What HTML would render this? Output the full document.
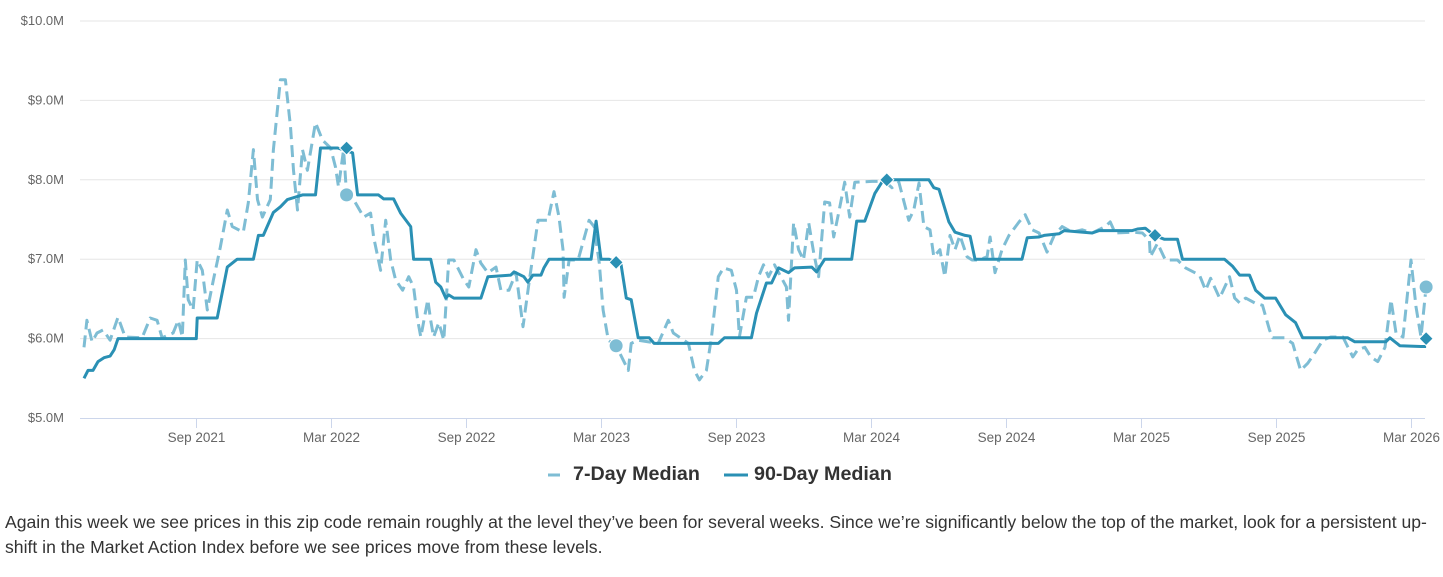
<!DOCTYPE html>
<html><head><meta charset="utf-8">
<style>
body{margin:0;width:1443px;height:577px;background:#fff;overflow:hidden;font-family:"Liberation Sans",Arial,sans-serif;}
#chart{position:absolute;left:0;top:0;}
#para{position:absolute;left:5px;top:510px;width:1422px;font-size:17.6px;line-height:25px;color:#333;margin:0;}
</style></head><body>
<svg id="chart" width="1443" height="500" xmlns="http://www.w3.org/2000/svg"></svg>
<p id="para">Again this week we see prices in this zip code remain roughly at the level they’ve been for several weeks. Since we’re significantly below the top of the market, look for a persistent up-shift in the Market Action Index before we see prices move from these levels.</p>
<script>
// months since Apr 2021
const dayT=[0,0.13,0.36,0.58,0.85,1.16,1.51,1.83,2.58,2.94,3.25,3.47,3.96,4.19,4.37,4.5,4.63,4.85,5.03,5.26,5.48,5.75,6.06,6.37,6.59,7.08,7.3,7.53,7.71,7.93,8.28,8.42,8.73,8.95,9.18,9.31,9.49,9.71,9.93,10.29,10.6,10.96,11.18,11.31,11.54,11.67,11.98,12.43,12.74,12.87,13.18,13.41,13.63,13.85,14.16,14.43,14.65,14.83,14.97,15.28,15.41,15.54,15.77,15.99,16.21,16.44,16.88,17.1,17.42,17.64,17.95,18.31,18.53,18.89,19.2,19.51,19.78,20.18,20.62,20.89,21.11,21.29,21.34,21.56,21.96,22.45,22.67,22.9,23.07,23.3,23.65,24.19,24.32,24.63,25.52,25.97,26.19,26.86,27.13,27.35,27.66,27.89,28.19,28.42,28.77,29,29.13,29.44,29.75,29.98,30.2,30.42,30.69,31.22,31.31,31.54,31.76,31.98,32.21,32.43,32.65,32.92,33.14,33.32,33.54,33.81,34.03,34.26,35.02,35.59,35.91,36.22,36.66,36.88,37.11,37.33,37.6,37.77,38.04,38.26,38.49,38.71,38.93,39.25,39.47,39.78,40.14,40.27,40.49,40.8,41.11,41.56,41.83,42.14,42.45,42.8,43.12,43.47,43.92,44.36,44.81,45.39,45.61,45.83,46.59,47.04,47.35,47.39,47.71,48.06,48.6,48.96,49.58,49.85,50.07,50.47,50.91,51.14,51.36,51.63,52.03,52.38,52.69,52.83,53.36,53.72,54.07,54.39,54.7,55.06,55.41,55.95,56.39,56.61,56.93,57.19,57.5,57.82,58.09,58.31,58.62,58.98,59.2,59.42,59.65];
const dayV=[5.89,6.23,5.96,6.07,6.11,5.98,6.27,6.02,6.01,6.26,6.23,6.01,6.07,6.23,6.02,6.99,6.49,6.36,6.99,6.86,6.36,6.74,7.15,7.62,7.41,7.34,7.71,8.38,7.75,7.53,7.75,8.38,9.26,9.26,8.67,8.12,7.62,8.38,8.12,8.72,8.5,8.4,8.16,7.91,8.38,7.81,7.75,7.53,7.58,7.28,6.86,7.49,6.99,6.74,6.61,6.78,6.65,6.23,6.02,6.49,6.23,6.02,6.2,5.98,6.99,6.99,6.74,6.65,7.12,6.95,6.83,6.9,6.61,6.61,6.83,6.15,6.7,7.49,7.49,7.85,7.53,7.12,6.52,6.99,6.99,7.49,7.41,6.95,6.36,5.98,5.91,5.6,5.94,5.98,5.94,6.23,6.07,5.94,5.6,5.48,5.6,6.02,6.78,6.89,6.86,6.61,6.02,6.52,6.52,6.78,6.93,6.78,6.93,6.65,6.23,7.46,7.12,6.99,7.46,7.08,6.78,7.72,7.71,7.28,7.58,7.97,7.53,7.97,7.98,7.98,7.9,7.97,7.49,7.62,7.96,7.41,7.37,7.03,7.12,6.78,7.3,7.12,7.3,7.03,6.99,6.99,7.03,7.28,6.83,7.12,7.3,7.47,7.56,7.37,7.33,7.09,7.3,7.41,7.34,7.37,7.33,7.41,7.47,7.33,7.34,7.33,7.24,7.03,7.2,6.99,6.99,6.89,6.8,6.61,6.76,6.51,6.78,6.51,6.45,6.51,6.45,6.42,6.11,6.01,6.01,5.94,5.6,5.69,5.82,5.98,6.02,6.02,5.77,5.86,5.89,5.77,5.71,5.89,6.49,6.07,6.02,6.99,6.4,6.02,6.65];
const qT=[0,0.18,0.4,0.62,0.89,1.16,1.34,1.51,4.99,5.03,5.92,6.37,6.81,7.53,7.75,7.97,8.42,8.73,9.04,9.71,10.29,10.51,11.27,11.94,12.16,13.09,13.32,13.76,14.07,14.52,14.65,15.41,15.63,15.86,16.08,16.21,16.44,17.64,17.95,18.97,19.11,19.55,19.73,19.95,20.31,20.44,20.67,22.54,22.76,22.98,23.34,23.87,24.1,24.32,24.63,25.12,25.34,28.19,28.46,29.66,29.89,30.33,30.56,30.87,31.31,31.58,32.34,32.56,32.92,34.12,34.34,34.7,35.15,35.46,35.68,37.55,37.77,38,38.44,38.71,39.16,39.38,39.6,41.69,41.92,42.45,42.67,43.34,43.56,44.81,45.12,46.59,46.82,47.17,47.57,48.02,48.6,48.82,50.69,51.05,51.36,51.8,52.07,52.47,52.96,53.41,53.85,54.16,56.17,56.48,57.86,58.04,58.48,59.42,59.65];
const qV=[5.5,5.6,5.6,5.71,5.76,5.78,5.86,6,6,6.26,6.26,6.9,7,7,7.3,7.3,7.59,7.66,7.75,7.81,7.81,8.4,8.4,8.34,7.81,7.81,7.76,7.76,7.58,7.41,7,7,6.71,6.65,6.51,6.55,6.51,6.51,6.78,6.8,6.84,6.78,6.71,6.8,6.8,6.89,7,7,7.48,7,7,6.93,6.51,6.49,6.01,6.01,5.94,5.94,6.01,6.01,6.32,6.7,6.7,6.89,6.83,6.89,6.9,6.84,7,7,7.48,7.48,7.83,7.97,8,8,7.9,7.88,7.47,7.34,7.3,7.29,7,7,7.27,7.28,7.3,7.32,7.36,7.33,7.36,7.36,7.38,7.39,7.3,7.25,7.25,7,7,6.91,6.8,6.8,6.61,6.51,6.51,6.3,6.2,6.01,6.01,5.96,5.96,6.01,5.91,5.9,5.9];
const diamondT=[11.67,23.65,35.68,47.6,59.65];
const diamondV=[8.4,6.96,8.0,7.30,6.0];
const circleT=[11.67,23.65,59.65];
const circleV=[7.81,5.91,6.65];
const yTicks=[5,6,7,8,9,10];
const xTickT=[5,11,17,23,29,35,41,47,53,59];
const xTickLabels=["Sep 2021","Mar 2022","Sep 2022","Mar 2023","Sep 2023","Mar 2024","Sep 2024","Mar 2025","Sep 2025","Mar 2026"];

const svg=document.getElementById('chart');
const NS='http://www.w3.org/2000/svg';
const X=t=>84+t*22.5;
const Y=v=>418-(v-5)*79.4;
function mk(tag,attrs,parent){const e=document.createElementNS(NS,tag);for(const k in attrs)e.setAttribute(k,attrs[k]);(parent||svg).appendChild(e);return e;}

yTicks.forEach((v,i)=>{
  if(v>5){const g=mk('line',{x1:80,x2:1425,y1:Y(v),y2:Y(v),stroke:'#e6e6e6','stroke-width':1});
  
  }
  const t=mk('text',{x:64,y:Y(v)+4,'text-anchor':'end','font-size':13,fill:'#666'});
  t.textContent='$'+v.toFixed(1)+'M';
  
  
});
const ax=mk('line',{x1:80,x2:1425,y1:418.5,y2:418.5,stroke:'#ccd6eb','stroke-width':1});


xTickT.forEach((t,i)=>{
  const x=X(t);
  const tk=mk('line',{x1:x,x2:x,y1:418,y2:428,stroke:'#ccd6eb','stroke-width':1});
  
  
  const lb=mk('text',{x:x,y:442,'text-anchor':'middle','font-size':13.5,fill:'#666'});
  lb.textContent=xTickLabels[i];
  
  
});
function path(T,V){return T.map((t,i)=>(i?'L':'M')+X(t).toFixed(1)+' '+Y(V[i]).toFixed(1)).join(' ');}
const d7=mk('path',{d:path(dayT,dayV),fill:'none',stroke:'#7ebdd4','stroke-width':3,'stroke-dasharray':'12 6','stroke-linejoin':'round'});


const d90=mk('path',{d:path(qT,qV),fill:'none',stroke:'#2a90b4','stroke-width':3,'stroke-linejoin':'round'});


circleT.forEach((t,i)=>{
  const c=mk('circle',{cx:X(t),cy:Y(circleV[i]),r:7,fill:'#7ebdd4',stroke:'#fff','stroke-width':1});
  
  
});
diamondT.forEach((t,i)=>{
  const x=X(t),y=Y(diamondV[i]);
  const p=mk('path',{d:`M${x} ${y-7} L${x+7} ${y} L${x} ${y+7} L${x-7} ${y} Z`,fill:'#2a90b4',stroke:'#fff','stroke-width':1});
  
  
});
// legend
const l1=mk('line',{x1:548,x2:560,y1:475,y2:475,stroke:'#7ebdd4','stroke-width':3});


const t1=mk('text',{x:573,y:480,'font-size':19.7,'font-weight':'bold',fill:'#333'});
t1.textContent='7-Day Median';


const l2=mk('line',{x1:724,x2:748,y1:475,y2:475,stroke:'#2a90b4','stroke-width':3});


const t2=mk('text',{x:754,y:480,'font-size':19.7,'font-weight':'bold',fill:'#333'});
t2.textContent='90-Day Median';


</script>
</body></html>
